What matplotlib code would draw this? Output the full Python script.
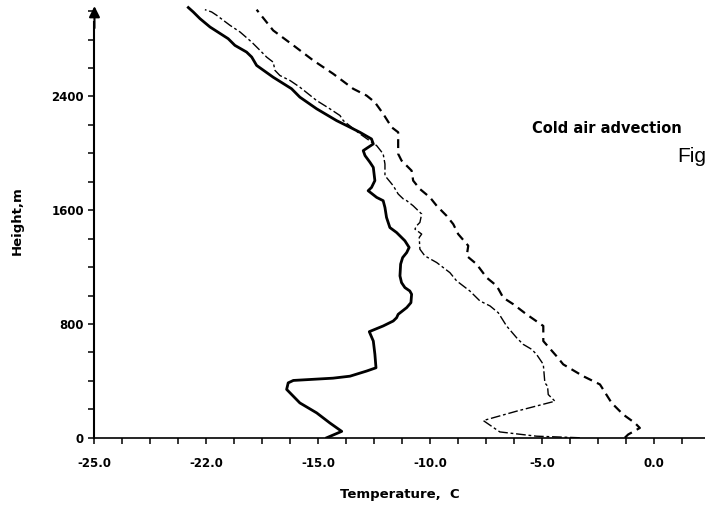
import numpy as np
import matplotlib
matplotlib.use("Agg")
import matplotlib.pyplot as plt
from matplotlib.ticker import MultipleLocator

# profiles: temperature (C) against height (m)
solid_t = [-14.63, -13.96, -14.49, -15.08, -15.83, -16.42, -16.35, -16.12, -14.35, -13.59,
           -12.85, -12.43, -12.48, -12.55, -12.73, -12.11, -11.66, -11.51, -11.44, -11.06,
           -10.87, -10.84, -10.92, -11.14, -11.29, -11.36, -11.33, -11.24, -11.06, -10.95,
           -11.14, -11.51, -11.81, -11.96, -12.03, -12.11, -12.40, -12.78, -12.63, -12.48,
           -12.55, -12.70, -12.92, -13.00, -12.78, -12.55, -12.63, -13.15, -13.74, -14.19,
           -15.08, -15.83, -16.20, -17.02, -17.76, -17.98, -18.21, -18.73, -19.03, -19.84,
           -20.29, -20.59, -20.81]
solid_h = [0, 45, 104, 175, 245, 340, 386, 403, 419, 433,
           469, 492, 588, 680, 746, 786, 821, 844, 868, 915,
           950, 1009, 1032, 1056, 1091, 1138, 1221, 1267, 1302, 1338,
           1385, 1443, 1478, 1549, 1619, 1667, 1690, 1737, 1760, 1808,
           1901, 1937, 1984, 2019, 2042, 2066, 2101, 2148, 2195, 2230,
           2313, 2395, 2454, 2535, 2618, 2677, 2712, 2759, 2806, 2888,
           2947, 2994, 3025]

dashdot_t = [-3.33, -5.26, -6.90, -7.64, -6.15, -4.44, -4.74, -4.77, -4.89, -4.96,
             -5.26, -5.48, -5.86, -6.15, -6.60, -6.97, -7.34, -7.79, -8.24, -8.83,
             -9.13, -9.72, -10.25, -10.47, -10.50, -10.39, -10.69, -10.62, -10.47, -10.39,
             -10.77, -11.06, -11.21, -11.44, -11.66, -12.03, -12.03, -12.11, -12.40, -13.15,
             -13.89, -14.04, -14.49, -15.08, -15.83, -16.27, -16.72, -16.94, -17.02, -17.31,
             -17.61, -17.98, -18.50, -18.95, -19.54, -19.77, -20.07]
dashdot_h = [0, 11, 41, 121, 187, 257, 304, 363, 386, 516,
             586, 622, 657, 703, 786, 879, 927, 962, 1032, 1103,
             1161, 1232, 1279, 1326, 1408, 1432, 1467, 1490, 1514, 1573,
             1631, 1667, 1679, 1714, 1772, 1843, 1925, 1996, 2054, 2137,
             2230, 2266, 2313, 2371, 2465, 2512, 2547, 2583, 2641, 2676,
             2724, 2782, 2853, 2900, 2970, 2994, 3010]

dashed_t = [-1.32, -1.17, -0.65, -0.87, -1.39, -1.91, -2.43, -3.18, -4.07, -4.37,
            -4.96, -4.96, -5.71, -6.30, -6.75, -7.04, -7.49, -7.94, -8.38, -8.31,
            -8.76, -8.98, -9.28, -9.72, -10.02, -10.47, -10.77, -10.84, -11.29, -11.44,
            -11.44, -11.73, -12.11, -12.48, -12.85, -13.45, -14.34, -15.23, -16.12, -17.02,
            -17.76]
dashed_h = [0, 23, 69, 104, 163, 245, 375, 433, 516, 574,
            680, 786, 868, 939, 985, 1068, 1126, 1221, 1279, 1350,
            1432, 1502, 1561, 1631, 1690, 1749, 1808, 1878, 1949, 1996,
            2148, 2183, 2278, 2359, 2406, 2454, 2559, 2653, 2759, 2864,
            3010]

xtick_pos = [-25, -20, -15, -10, -5, 0]
xtick_labels = ["-25.0", "-22.0", "-15.0", "-10.0", "-5.0", "0.0"]
ytick_pos = [0, 800, 1600, 2400]

fig = plt.figure(figsize=(7.05, 5.12), dpi=100)
ax = fig.add_axes([0.134, 0.145, 0.866, 0.85])

ax.plot(solid_t, solid_h, color="black", lw=2.0, solid_joinstyle="round")
ax.plot(dashdot_t, dashdot_h, color="black", lw=1.0, dashes=(7, 2, 2, 2))
ax.plot(dashed_t, dashed_h, color="black", lw=1.6, dashes=(4, 2.5))

ax.set_xlim(-25, 2.26)
ax.set_ylim(0, 3060)

for s in ["top", "right"]:
    ax.spines[s].set_visible(False)
ax.spines["left"].set_bounds(0, 2920)
ax.spines["left"].set_linewidth(1.5)
ax.spines["bottom"].set_linewidth(1.2)

# arrow head on top of the height axis
ax.annotate("", xy=(-25, 3035), xytext=(-25, 2880),
            arrowprops=dict(arrowstyle="-|>", color="black", lw=1.5,
                            mutation_scale=16, shrinkA=0, shrinkB=0),
            annotation_clip=False)

ax.set_xticks(xtick_pos)
ax.set_xticklabels(xtick_labels)
ax.xaxis.set_minor_locator(MultipleLocator(1.25))
ax.set_yticks(ytick_pos)
ax.yaxis.set_minor_locator(MultipleLocator(200))
ax.tick_params(which="both", direction="out", length=4.5, width=1.1)
ax.tick_params(axis="x", which="both", pad=9)
ax.tick_params(axis="y", which="both", pad=3)

for lab in ax.get_xticklabels() + ax.get_yticklabels():
    lab.set_fontfamily("DejaVu Sans")
    lab.set_fontweight("bold")
    lab.set_fontsize(8.5)

ax.set_xlabel("Temperature,  C", fontsize=9.5, fontweight="bold", labelpad=13)
ax.set_ylabel("Height,m", fontsize=9.5, fontweight="bold", labelpad=20)

fig.text(532 / 705, 1 - 133 / 512, "Cold air advection", fontsize=10.5,
         fontweight="bold", ha="left", va="baseline")
fig.text(677 / 705, 1 - 162 / 512, "Fig", fontsize=15, family="Liberation Sans",
         ha="left", va="baseline")

fig.savefig("out.png", dpi=100)
